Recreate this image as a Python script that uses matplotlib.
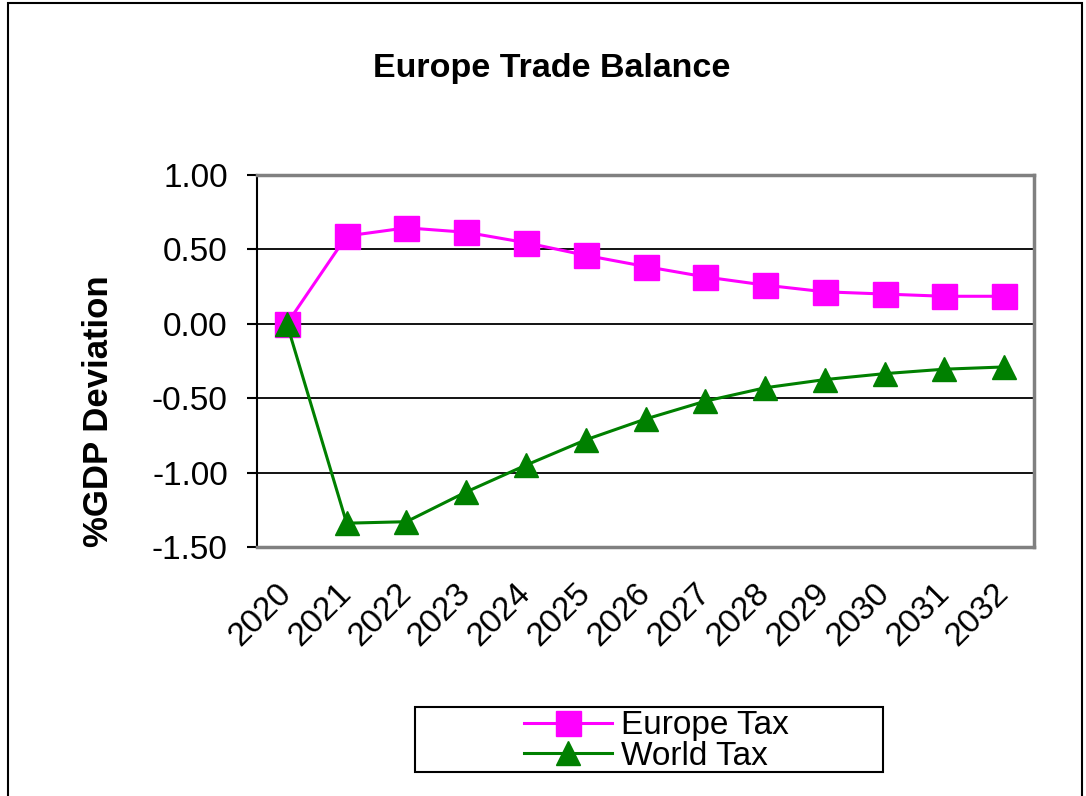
import matplotlib.pyplot as plt
from matplotlib.patches import Rectangle

plt.rcParams['font.family'] = ['Liberation Sans', 'DejaVu Sans']

years = ["2020", "2021", "2022", "2023", "2024", "2025", "2026",
         "2027", "2028", "2029", "2030", "2031", "2032"]
europe_tax = [0.00, 0.59, 0.645, 0.615, 0.545, 0.46, 0.385,
              0.315, 0.26, 0.215, 0.20, 0.185, 0.185]
world_tax = [0.00, -1.34, -1.33, -1.13, -0.95, -0.78, -0.64,
             -0.52, -0.43, -0.375, -0.335, -0.305, -0.29]
yticks = [1.00, 0.50, 0.00, -0.50, -1.00, -1.50]

W, H = 1086, 796
fig = plt.figure(figsize=(W / 100, H / 100), dpi=100)
# outer chart border
fig.patches.append(Rectangle((8 / W, -0.01), 1074 / W, 1 - 3 / H + 0.01,
                             transform=fig.transFigure, fill=False,
                             edgecolor="black", linewidth=1.5))

ax = fig.add_axes([257 / W, 1 - 547 / H, 777 / W, 372 / H])
x = range(len(years))
ax.plot(x, europe_tax, color="#FF00FF", linewidth=2.2, marker="s",
        markersize=18, label="Europe Tax", zorder=3)
ax.plot(x, world_tax, color="#008000", linewidth=2.2, marker="^",
        markersize=17, label="World Tax", zorder=3)

ax.set_xlim(-0.5, len(years) - 0.5)
ax.set_ylim(-1.5, 1.0)
ax.set_yticks(yticks)
ax.set_yticklabels([f"{v:.2f}" for v in yticks], fontsize=24)
ax.set_xticks(list(x))
ax.set_xticklabels(years, fontsize=24, rotation=45, ha="right", va="center",
                   rotation_mode="anchor")
ax.tick_params(axis="x", length=0, pad=30)
ax.tick_params(axis="y", length=7, width=1.5, direction="out", pad=14)
ax.grid(axis="y", color="black", linewidth=1.3)
ax.set_axisbelow(True)
for side in ["top", "right", "bottom"]:
    ax.spines[side].set_color("#808080")
    ax.spines[side].set_linewidth(2.5)
ax.spines["left"].set_color("black")
ax.spines["left"].set_linewidth(1.5)

fig.text(552 / W, 1 - 77 / H, "Europe Trade Balance", fontsize=24.5,
         fontweight="bold", ha="center", va="baseline")
fig.text(99 / W, 1 - 411 / H, "%GDP Deviation", fontsize=25,
         fontweight="bold", rotation=90, ha="center", va="center")

# legend box
fig.patches.append(Rectangle((415 / W, 1 - 772 / H), 468 / W, 65 / H,
                             transform=fig.transFigure, fill=False,
                             edgecolor="black", linewidth=1.5))
leg = fig.legend(loc="center left", bbox_to_anchor=(524 / W, 1 - 741 / H),
                 fontsize=24, frameon=False, borderpad=0,
                 handlelength=2.65, handletextpad=0.27, labelspacing=-0.02,
                 borderaxespad=0)

fig.savefig("out.png", dpi=100)
